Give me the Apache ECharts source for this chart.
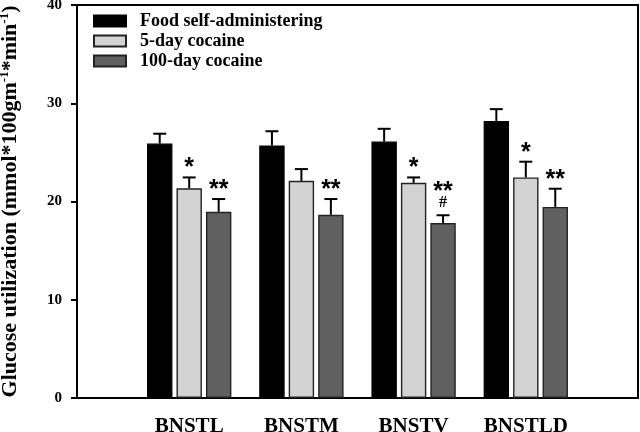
<!DOCTYPE html>
<html>
<head>
<meta charset="utf-8">
<script src="https://cdn.jsdelivr.net/npm/echarts@6/dist/echarts.min.js"></script>
<style>html,body{margin:0;padding:0;background:#fff}#c{width:640px;height:432px}</style>
</head>
<body>
<div id="c"></div>
<script>
// ---- data ----
const categories = ['', 'BNSTL', 'BNSTM', 'BNSTV', 'BNSTLD', ''];
const seriesNames = ['Food self-administering', '5-day cocaine', '100-day cocaine'];
const foodVals = [25.9, 25.7, 26.1, 28.2];
const foodErr  = [1.0, 1.45, 1.3, 1.2];
const day5Vals = [21.35, 22.1, 21.9, 22.45];
const day5Err  = [1.1, 1.2, 0.55, 1.6];
const day100Vals = [18.95, 18.65, 17.8, 19.45];
const day100Err  = [1.3, 1.6, 0.8, 1.85];
const foodMarks = ['', '', '', ''];
const day5Marks = ['*', '', '*', '*'];
const day100Marks = ['**', '**', '**', '**'];
const day100Marks2 = ['', '', '#', ''];
const yTicks = [0, 10, 20, 30, 40];

// ---- style ----
const SERIF = 'Liberation Serif';
const colors = ['#000000', '#d3d3d3', '#606060'];
const BAR_W = 25.4;
const BAR_GAP = 0.16;
const CAP = 6.5;

function pad(arr) { return ['-'].concat(arr).concat(['-']); }

function errSeries(idx, vals, errs, marks, marks2) {
  const data = vals.map((v, i) => [i + 1, v, errs[i]]);
  const offset = (idx - 1) * BAR_W * (1 + BAR_GAP);
  return {
    type: 'custom',
    z: 5,
    silent: true,
    data: data,
    renderItem: function (params, api) {
      const c = api.value(0), v = api.value(1), e = api.value(2);
      const base = api.coord([c, v]);
      const top = api.coord([c, v + e]);
      const x = base[0] + offset;
      const ch = [
        { type: 'line', shape: { x1: x, y1: base[1], x2: x, y2: top[1] }, style: { stroke: '#000', lineWidth: 2 } },
        { type: 'line', shape: { x1: x - CAP, y1: top[1], x2: x + CAP, y2: top[1] }, style: { stroke: '#000', lineWidth: 2 } }
      ];
      const m = marks[params.dataIndex];
      const m2 = marks2 ? marks2[params.dataIndex] : '';
      if (m) {
        ch.push({ type: 'text', style: { text: m, x: x, y: top[1] - (m2 ? 23 : 9), textAlign: 'center', textVerticalAlign: 'middle', font: 'bold 25px "Liberation Sans"', fill: '#000' } });
      }
      if (m2) {
        ch.push({ type: 'text', style: { text: m2, x: x, y: top[1] - 12, textAlign: 'center', textVerticalAlign: 'middle', font: 'bold 16px "Liberation Serif"', fill: '#000' } });
      }
      return { type: 'group', children: ch };
    }
  };
}

const barBase = {
  type: 'bar',
  barWidth: BAR_W,
  barGap: (BAR_GAP * 100) + '%',
  z: 2
};

const option = {
  animation: false,
  backgroundColor: '#fff',
  grid: { left: 77, right: 2, top: 5, bottom: 34, containLabel: false, outerBoundsMode: 'none', show: true, borderColor: '#000', borderWidth: 2, backgroundColor: 'transparent' },
  legend: {
    orient: 'vertical',
    left: 88, top: 7,
    itemWidth: 32, itemHeight: 11, itemGap: 2,
    icon: 'rect',
    data: seriesNames,
    selectedMode: false,
    textStyle: { fontFamily: SERIF, fontWeight: 'bold', fontSize: 18, color: '#000', lineHeight: 18, padding: [0, 0, 0, 9] }
  },
  xAxis: {
    type: 'category',
    data: categories,
    boundaryGap: false,
    axisLine: { lineStyle: { color: '#000', width: 2 } },
    axisTick: { show: false },
    axisLabel: { interval: 0, margin: 18, fontFamily: SERIF, fontWeight: 'bold', fontSize: 21, color: '#000' },
    splitLine: { show: false }
  },
  yAxis: {
    type: 'value',
    min: yTicks[0], max: yTicks[yTicks.length - 1], interval: 10,
    name: 'Glucose utilization (mmol*100gm{s|-1}*min{s|-1})',
    nameLocation: 'middle',
    nameRotate: 90,
    nameGap: 55,
    nameTextStyle: {
      fontFamily: SERIF, fontWeight: 'bold', fontSize: 22, color: '#000', lineHeight: 24,
      rich: { s: { fontFamily: SERIF, fontWeight: 'bold', fontSize: 13, color: '#000', verticalAlign: 'top', lineHeight: 13, padding: [0, 0, 8, 0] } }
    },
    axisLine: { show: true, lineStyle: { color: '#000', width: 2 } },
    axisTick: { show: true, inside: false, length: 6, lineStyle: { color: '#000', width: 2 } },
    axisLabel: { margin: 15, fontFamily: SERIF, fontWeight: 'bold', fontSize: 15, color: '#000' },
    splitLine: { show: false }
  },
  series: [
    Object.assign({}, barBase, { name: seriesNames[0], data: pad(foodVals), itemStyle: { color: colors[0], borderColor: '#000', borderWidth: 1.2 } }),
    Object.assign({}, barBase, { name: seriesNames[1], data: pad(day5Vals), itemStyle: { color: colors[1], borderColor: '#222', borderWidth: 1.4 } }),
    Object.assign({}, barBase, { name: seriesNames[2], data: pad(day100Vals), itemStyle: { color: colors[2], borderColor: '#222', borderWidth: 1.4 } }),
    errSeries(0, foodVals, foodErr, foodMarks, null),
    errSeries(1, day5Vals, day5Err, day5Marks, null),
    errSeries(2, day100Vals, day100Err, day100Marks, day100Marks2)
  ]
};

const chart = echarts.init(document.getElementById('c'), null, { renderer: 'canvas' });
chart.setOption(option);
</script>
</body>
</html>
